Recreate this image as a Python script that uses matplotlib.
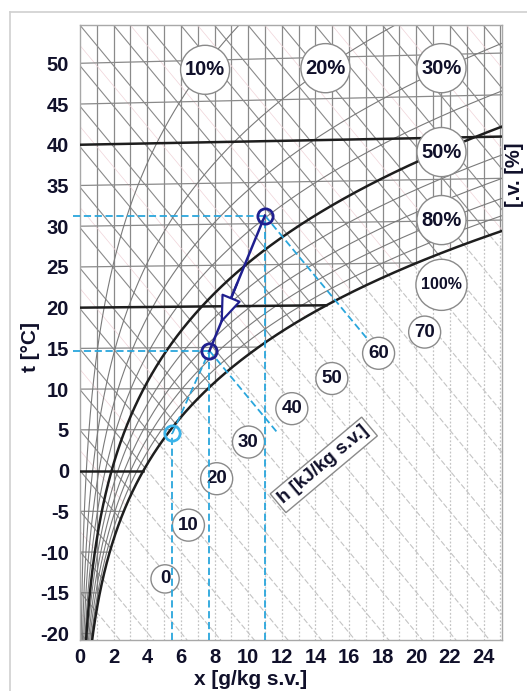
import numpy as np
import matplotlib.pyplot as plt
from matplotlib.lines import Line2D

plt.rcParams['font.family'] = ['Liberation Sans', 'DejaVu Sans']
plt.rcParams['axes.unicode_minus'] = False

P_ATM = 101.325   # kPa
SKEW = 0.001      # slight rise of isotherms with x

# relative humidity curves [%]
rh_thin = [10, 20, 30, 40, 60, 70, 80, 90]
rh_bold = [50, 100]
rh_label_text = ['10%', '20%', '30%', '50%', '80%', '100%']

# isotherms [degC]
isotherms = [-20, -15, -10, -5, 0, 5, 10, 15, 20, 25, 30, 35, 40, 45, 50]
isotherms_bold = [0, 20, 40]

# enthalpy grid [kJ/kg]
h_grid = list(range(-20, 125, 5))
h_label_vals = [0, 10, 20, 30, 40, 50, 60, 70]

# process: A -> B, C = dew point on saturation
proc_x = [11.0, 7.7, 5.5]
proc_t = [31.3, 14.7, 4.6]

x_ticks = [0, 2, 4, 6, 8, 10, 12, 14, 16, 18, 20, 22, 24]
t_ticks = [-20, -15, -10, -5, 0, 5, 10, 15, 20, 25, 30, 35, 40, 45, 50]

GRID = '#8a8a8a'
FOG = '#c4c4c4'
NAVY = '#1f1f8f'
SKY = '#2aa6dc'
BOLD = '#1e1e1e'
TXT = '#10102a'


def psat(t):
    return 0.61094 * np.exp(17.625 * t / (t + 243.04))


def x_of(t, phi):
    pv = phi * psat(t)
    return 622.0 * pv / (P_ATM - pv)


def ypl(t, x):
    return t * (1 + SKEW * x)


XMAX, YMIN, YMAX = 25.1, -20.8, 54.7

fig = plt.figure(figsize=(5.27, 6.91), dpi=100)
ax = fig.add_axes([80 / 527, 1 - 640 / 691, 422 / 527, 615 / 691])
ax.set_xlim(0, XMAX)
ax.set_ylim(YMIN, YMAX)

# saturation curve as function of x
tt = np.linspace(-25, 60, 3000)
xs = x_of(tt, 1.0)
ys = ypl(tt, xs)


def ysat(x):
    return np.interp(x, xs, ys, left=-100)


# vertical x lines: solid above saturation, dotted in fog region
for k in range(1, 26):
    y0 = ysat(k)
    ax.plot([k, k], [max(y0, YMIN), YMAX + 1], color=GRID, lw=0.9, zorder=1)
    if y0 > YMIN:
        ax.plot([k, k], [YMIN - 1, y0], color=FOG, lw=0.9, ls=(0, (1.5, 1.5)), zorder=1)

# enthalpy lines
xx = np.linspace(0, XMAX, 800)
for h in h_grid:
    yh = (h - 2.501 * xx) / 1.006
    above = np.where(yh >= ysat(xx), yh, np.nan)
    below = np.where(yh < ysat(xx), yh, np.nan)
    ax.plot(xx, above, color=GRID, lw=0.8, zorder=1)
    ax.plot(xx, below, color=FOG, lw=0.8, ls=(0, (5, 2)), zorder=1)
    if h % 10 == 0:
        yp = (h + 2.5 - 2.501 * xx) / 1.006
        ax.plot(xx, np.where(yp >= ysat(xx), yp, np.nan), color='#efd3d8', lw=0.5, zorder=1)

# isotherms
for t in isotherms:
    xe = min(x_of(t, 1.0), XMAX)
    xi = np.linspace(0, xe, 100)
    bold = t in isotherms_bold
    ax.plot(xi, ypl(t, xi), color=BOLD if bold else GRID,
            lw=1.8 if bold else 0.9, zorder=3 if bold else 2)

# relative humidity curves
for phi in rh_thin:
    xr = x_of(tt, phi / 100)
    ax.plot(xr, ypl(tt, xr), color='#7a7a7a', lw=0.8, zorder=2)
for phi in rh_bold:
    xr = x_of(tt, phi / 100)
    ax.plot(xr, ypl(tt, xr), color=BOLD, lw=1.8, zorder=3)

# rh label circles (connected by a short leader)
rh_pos = [(7.44, 49.2), (14.6, 49.4), (21.5, 49.4), (21.5, 39.1), (21.5, 30.75), (21.5, 22.8)]
ax.plot([21.5, 21.5], [30.75, 49.4], color='#8a8a8a', lw=1.0, zorder=4)
for txt, (px, py) in zip(rh_label_text, rh_pos):
    fs = 11.5 if txt == '100%' else 14.5
    pad = 0.32 if txt == '100%' else 0.22
    ax.text(px, py, txt, fontsize=fs, ha='center', va='center', color=TXT, zorder=6,
            fontweight='bold',
            bbox=dict(boxstyle=f'circle,pad={pad}', fc='white', ec='#8a8a8a', lw=1.0))

# enthalpy labels
h_pos = [(5.06, -13.3), (6.45, -6.7), (8.13, -1.0), (10.02, 3.5),
         (12.6, 7.6), (14.98, 11.3), (17.76, 14.4), (20.5, 17.0)]
for hv, (px, py) in zip(h_label_vals, h_pos):
    ax.text(px, py, str(hv), fontsize=13.5, ha='center', va='center', color=TXT, zorder=6,
            fontweight='bold',
            bbox=dict(boxstyle='circle,pad=0.3', fc='white', ec='#8a8a8a', lw=1.0))

ax.text(14.5, 0.7, 'h [kJ/kg s.v.]', fontsize=13.5, rotation=40, ha='center', va='center',
        rotation_mode='anchor', color=TXT, zorder=6, fontweight='bold',
        bbox=dict(boxstyle='square,pad=0.2', fc='white', ec='#8a8a8a', lw=1.0))

# process lines
ax_, bx_, cx_ = proc_x
at_, bt_, ct_ = proc_t
dash = (0, (4, 2))
ax.plot([-0.4, ax_], [at_, at_], color=SKY, lw=1.3, ls=dash, zorder=7, clip_on=False)
ax.plot([-0.4, bx_], [bt_, bt_], color=SKY, lw=1.3, ls=dash, zorder=7, clip_on=False)
for px, pt in zip(proc_x, proc_t):
    ax.plot([px, px], [YMIN, pt], color=SKY, lw=1.3, ls=dash, zorder=7)
ax.plot([cx_, bx_], [ct_, bt_], color=SKY, lw=1.3, ls=dash, zorder=7)
for px, pt in [(ax_, at_), (bx_, bt_)]:
    x2 = px + 6.1 if px > 10 else px + 4.1
    ax.plot([px, x2], [pt, pt - 2.501 * (x2 - px) / 1.006], color=SKY, lw=1.3, ls=dash, zorder=7)

ax.plot([ax_, bx_], [at_, bt_], color=NAVY, lw=1.8, zorder=8)
f1, f2 = 0.5, 0.8
ax.annotate('', xy=(ax_ + (bx_ - ax_) * f2, at_ + (bt_ - at_) * f2),
            xytext=(ax_ + (bx_ - ax_) * f1, at_ + (bt_ - at_) * f1),
            arrowprops=dict(arrowstyle='-|>,head_length=0.8,head_width=0.3',
                            mutation_scale=22, fc='white', ec=NAVY, lw=1.6,
                            shrinkA=0, shrinkB=0), zorder=9)
ax.plot([ax_, bx_], [at_, bt_], 'o', ms=11, mfc='none', mec=NAVY, mew=2, zorder=10)
ax.plot([cx_], [ct_], 'o', ms=11, mfc='none', mec='#3ab4ea', mew=2, zorder=10)

# axes cosmetics
ax.set_xticks(x_ticks)
ax.set_yticks(t_ticks)
ax.tick_params(length=0, labelsize=14.5, labelcolor=TXT)
ax.tick_params(axis='x', pad=6)
ax.tick_params(axis='y', pad=8)
for lab in ax.get_xticklabels() + ax.get_yticklabels():
    lab.set_fontweight('bold')
for s in ax.spines.values():
    s.set_color('#a8a8a8')
    s.set_linewidth(1.0)

ax.text(-0.118, 0.476, 't [°C]', transform=ax.transAxes, rotation=90, fontsize=15,
        ha='center', va='center', color=TXT, fontweight='bold')
ax.text(0.403, -0.065, 'x [g/kg s.v.]', transform=ax.transAxes, fontsize=15,
        ha='center', va='center', color=TXT, fontweight='bold')
fig.text(514 / 527, 1 - 175 / 691, '[.v. [%]', rotation=90, fontsize=14.5,
         ha='center', va='center', color=TXT, fontweight='bold')

# outer light frame
fig.add_artist(Line2D([10 / 527, 1], [1 - 12 / 691, 1 - 12 / 691], color='#d0d0d0', lw=1.2))
fig.add_artist(Line2D([10 / 527, 10 / 527], [0, 1 - 12 / 691], color='#d0d0d0', lw=1.2))

fig.savefig('out.png', dpi=100, facecolor='white')
